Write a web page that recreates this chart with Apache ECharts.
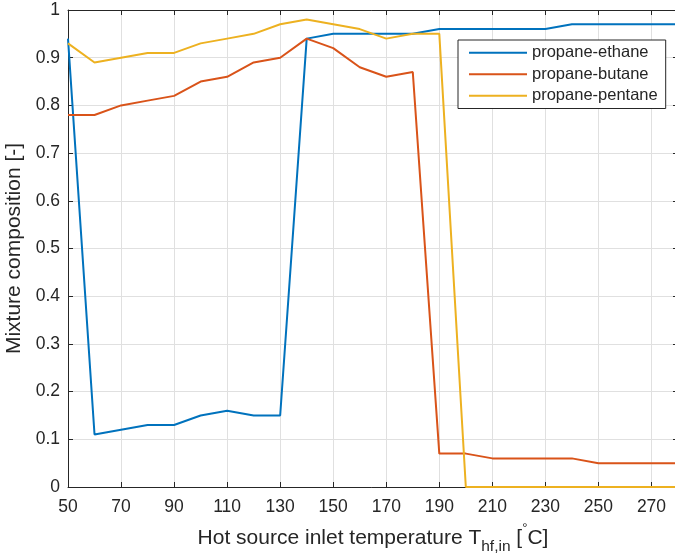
<!DOCTYPE html>
<html>
<head>
<meta charset="utf-8">
<script src="https://cdn.jsdelivr.net/npm/echarts@6/dist/echarts.min.js"></script>
<style>
  html, body { margin: 0; padding: 0; background: #fff; }
  #chart { width: 675px; height: 556px; }
</style>
</head>
<body>
<div id="chart"></div>
<script>
// Hot source inlet temperature, °C (one point every 10 °C)
const temperatures = [50, 60, 70, 80, 90, 100, 110, 120, 130, 140, 150, 160, 170, 180,
                      190, 200, 210, 220, 230, 240, 250, 260, 270, 280];

// Optimal mixture composition for each working-fluid pair
const propaneEthane = [0.94, 0.11, 0.12, 0.13, 0.13, 0.15, 0.16, 0.15, 0.15, 0.94, 0.95, 0.95,
                       0.95, 0.95, 0.96, 0.96, 0.96, 0.96, 0.96, 0.97, 0.97, 0.97, 0.97, 0.97];
const propaneButane = [0.78, 0.78, 0.80, 0.81, 0.82, 0.85, 0.86, 0.89, 0.90, 0.94, 0.92, 0.88,
                       0.86, 0.87, 0.07, 0.07, 0.06, 0.06, 0.06, 0.06, 0.05, 0.05, 0.05, 0.05];
const propanePentane = [0.93, 0.89, 0.90, 0.91, 0.91, 0.93, 0.94, 0.95, 0.97, 0.98, 0.97, 0.96,
                        0.94, 0.95, 0.95, 0.00, 0.00, 0.00, 0.00, 0.00, 0.00, 0.00, 0.00, 0.00];

const seriesNames = ['propane-ethane', 'propane-butane', 'propane-pentane'];
const seriesColors = ['#0072BD', '#D95319', '#EDB120'];

const FONT = '"Liberation Sans", Arial, Helvetica, sans-serif';
const INK = '#262626';
const GRID_LINE = '#e0e0e0';

const chart = echarts.init(document.getElementById('chart'), null, { renderer: 'canvas' });

const boxAxisX = (position, showLabels) => ({
  type: 'category',
  data: temperatures.map(String),
  position: position,
  boundaryGap: false,
  axisLine: { show: true, onZero: false, lineStyle: { color: INK, width: 1 } },
  axisTick: { show: true, inside: true, length: 5, interval: 1, lineStyle: { color: INK } },
  axisLabel: {
    show: showLabels, interval: 1, margin: 11,
    color: INK, fontSize: 17.5, fontFamily: FONT
  },
  splitLine: { show: showLabels, interval: 1, lineStyle: { color: GRID_LINE, width: 1 } }
});

const boxAxisY = (position, showLabels) => ({
  type: 'value',
  position: position,
  min: 0, max: 1, interval: 0.1,
  axisLine: { show: true, onZero: false, lineStyle: { color: INK, width: 1 } },
  axisTick: { show: true, inside: true, length: 5, lineStyle: { color: INK } },
  axisLabel: {
    show: showLabels, margin: 8, color: INK, fontSize: 17.5, fontFamily: FONT,
    formatter: v => (Math.round(v * 10) / 10).toString()
  },
  splitLine: { show: showLabels, lineStyle: { color: GRID_LINE, width: 1 } }
});

const xMain = boxAxisX('bottom', true);
xMain.name = '{m|Hot source inlet temperature T}{s|hf,in}{m| [}{d|°}{m|C]}';
xMain.nameLocation = 'middle';
xMain.nameGap = 35;
xMain.nameTextStyle = {
  color: INK, fontFamily: FONT,
  rich: {
    m: { fontSize: 21, lineHeight: 21, padding: [6, 0, 0, 0], verticalAlign: 'top', color: INK, fontFamily: FONT },
    s: { fontSize: 15.5, lineHeight: 15, padding: [17, 0, 0, 0], verticalAlign: 'top', color: INK, fontFamily: FONT },
    d: { fontSize: 13, lineHeight: 13, padding: [0, 0, 0, 0], verticalAlign: 'top', color: INK, fontFamily: FONT }
  }
};

const yMain = boxAxisY('left', true);
yMain.name = 'Mixture composition [-]';
yMain.nameLocation = 'middle';
yMain.nameGap = 36;
yMain.nameTextStyle = { color: INK, fontSize: 21, fontFamily: FONT };

const lineSeries = [propaneEthane, propaneButane, propanePentane].map((values, i) => ({
  name: seriesNames[i],
  type: 'line',
  xAxisIndex: 0,
  yAxisIndex: 0,
  data: values,
  showSymbol: false,
  symbol: 'none',
  lineStyle: { color: seriesColors[i], width: 2 },
  itemStyle: { color: seriesColors[i] },
  emphasis: { disabled: true },
  animation: false,
  z: 3 + i
}));

chart.setOption({
  backgroundColor: '#ffffff',
  animation: false,
  grid: {
    left: 68, top: 10, right: -3, bottom: 69,
    containLabel: false,
    outerBoundsMode: 'none'
  },
  xAxis: [xMain, boxAxisX('top', false)],
  yAxis: [yMain, boxAxisY('right', false)],
  legend: {
    show: true,
    orient: 'vertical',
    left: 458,
    top: 40,
    padding: [4, 8, 4, 11],
    itemGap: 4,
    itemWidth: 58,
    itemHeight: 2,
    icon: 'rect',
    backgroundColor: '#ffffff',
    borderColor: INK,
    borderWidth: 1,
    borderRadius: 0,
    textStyle: { color: INK, fontSize: 16.5, fontFamily: FONT, padding: [0, 0, 0, 0], lineHeight: 17.5 },
    data: seriesNames,
    selectedMode: false
  },
  series: lineSeries
});
</script>
</body>
</html>
